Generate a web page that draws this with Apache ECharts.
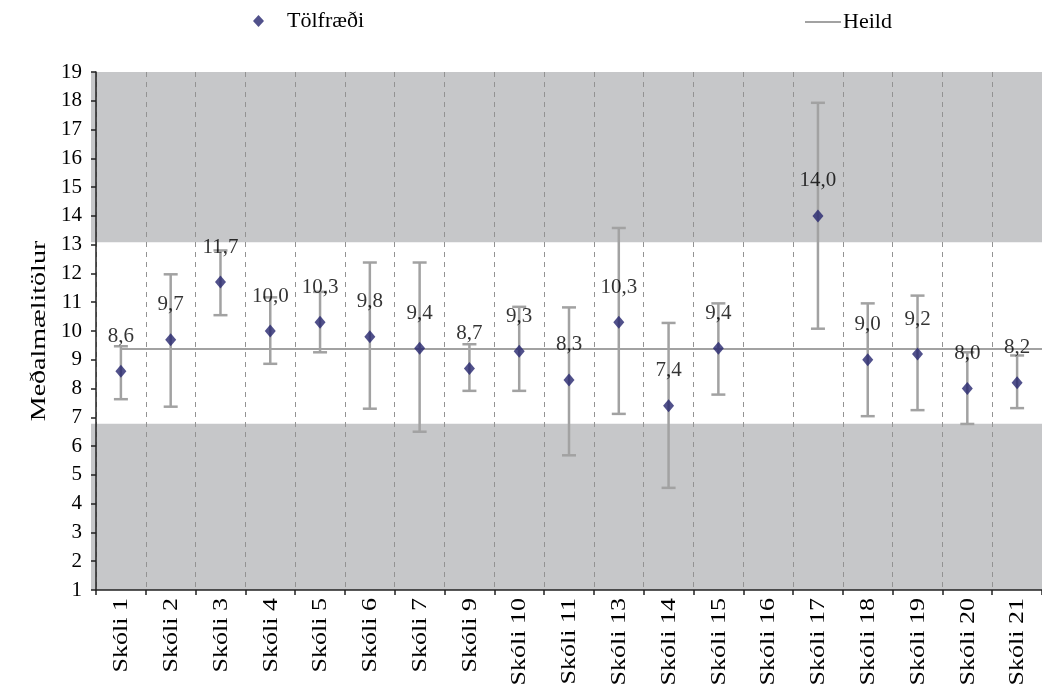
<!DOCTYPE html>
<html>
<head>
<meta charset="utf-8">
<script src="https://cdn.jsdelivr.net/npm/echarts@6/dist/echarts.min.js"></script>
<style>
  html, body { margin: 0; padding: 0; background: #fff; }
  #chart { width: 1042px; height: 689px; }
</style>
</head>
<body>
<div id="chart"></div>
<script>
// School categories along the x axis
const schools = ['Skóli 1', 'Skóli 2', 'Skóli 3', 'Skóli 4', 'Skóli 5', 'Skóli 6', 'Skóli 7',
  'Skóli 9', 'Skóli 10', 'Skóli 11', 'Skóli 13', 'Skóli 14', 'Skóli 15', 'Skóli 16',
  'Skóli 17', 'Skóli 18', 'Skóli 19', 'Skóli 20', 'Skóli 21'];

// Mean score per school (Skóli 16 has no result)
const means = [8.6, 9.7, 11.7, 10.0, 10.3, 9.8, 9.4, 8.7, 9.3, 8.3, 10.3, 7.4, 9.4, null, 14.0, 9.0, 9.2, 8.0, 8.2];
// Lower and upper ends of each school's range
const lows  = [7.63, 7.37, 10.55, 8.86, 9.26, 7.30, 6.50, 7.92, 7.92, 5.68, 7.12, 4.55, 7.79, null, 10.08, 7.04, 7.25, 6.77, 7.32];
const highs = [9.47, 11.97, 12.80, 11.17, 11.36, 12.38, 12.38, 9.54, 10.84, 10.82, 13.58, 10.28, 10.96, null, 17.93, 10.96, 11.23, 9.26, 9.15];

// Overall mean ("Heild")
const overall = 9.4;
// Edges of the shaded outer zones
const bandEdges = [6.78, 13.08];
// Value axis range
const yMin = 1, yMax = 19;

const serifName = '"Liberation Serif", "Times New Roman", serif';
const fmt = v => v.toFixed(1).replace('.', ',');
// Rotated captions are drawn in a slightly widened serif
const stretch = 1.3;
const titleStretch = 1.4;

const errData = schools.map((s, i) => lows[i] == null ? null : [i, lows[i], highs[i]]).filter(d => d);
const pointData = schools.map((s, i) => means[i] == null ? null : [i, means[i]]).filter(d => d);
const labelData = schools.map((s, i) => [i, yMin]);

const chart = echarts.init(document.getElementById('chart'), null, { renderer: 'canvas' });

chart.setOption({
  animation: false,
  backgroundColor: '#fff',
  textStyle: { fontFamily: serifName, color: '#000' },
  legend: [
    {
      data: [{ name: 'Tölfræði', icon: 'diamond' }],
      left: 248, top: 5,
      itemWidth: 11, itemHeight: 12,
      textStyle: { fontFamily: serifName, fontSize: 22, color: '#000', padding: [0, 0, 0, 18] }
    },
    {
      data: [{ name: 'Heild', icon: 'rect' }],
      left: 800, top: 6,
      itemWidth: 36, itemHeight: 2,
      textStyle: { fontFamily: serifName, fontSize: 22, color: '#000', padding: [0, 0, 0, -3] }
    }
  ],
  graphic: [
    {
      type: 'text',
      x: 40, y: 331,
      rotation: Math.PI / 2,
      scaleX: titleStretch,
      silent: true,
      style: {
        text: 'Meðalmælitölur',
        font: '20px ' + serifName,
        fill: '#000',
        align: 'center',
        verticalAlign: 'middle'
      }
    }
  ],
  grid: { left: 96, right: -6, top: 72, bottom: 99, containLabel: false },
  xAxis: {
    type: 'category',
    data: schools,
    boundaryGap: true,
    z: 3,
    axisLine: { lineStyle: { color: '#222', width: 1.5 } },
    axisTick: { show: true, interval: 0, length: 5, inside: false, lineStyle: { color: '#222', width: 1.5 } },
    axisLabel: { show: false, interval: 0 },
    splitLine: { show: true, interval: 0, lineStyle: { color: '#939393', type: [5, 5], width: 1 } }
  },
  yAxis: {
    type: 'value',
    min: yMin, max: yMax, interval: 1,
    z: 3,
    axisLine: { show: true, lineStyle: { color: '#222', width: 1.5 } },
    axisTick: { show: true, length: 5, inside: false, lineStyle: { color: '#222', width: 1.5 } },
    axisLabel: { fontSize: 21, color: '#000', fontFamily: serifName, margin: 14 },
    splitLine: { show: false }
  },
  series: [
    {
      // shaded zones above and below the middle band
      type: 'line',
      name: 'zones',
      data: [],
      z: 0,
      silent: true,
      markArea: {
        silent: true,
        z: 0,
        itemStyle: { color: '#c6c7c9' },
        data: [
          [{ x: 91, yAxis: bandEdges[1] }, { x: '100%', yAxis: yMax }],
          [{ x: 91, yAxis: yMin }, { x: '100%', yAxis: bandEdges[0] }]
        ]
      }
    },
    {
      // school names under the category axis
      type: 'custom',
      name: 'names',
      z: 6,
      silent: true,
      clip: false,
      data: labelData,
      renderItem: function (params, api) {
        const p = api.coord([api.value(0), yMin]);
        return {
          type: 'text',
          x: p[0] + 1,
          y: p[1] + 8,
          rotation: Math.PI / 2,
          scaleX: stretch,
          style: {
            text: schools[params.dataIndex],
            font: '20px ' + serifName,
            fill: '#000',
            align: 'right',
            verticalAlign: 'middle'
          }
        };
      }
    },
    {
      type: 'custom',
      name: 'range',
      z: 2,
      silent: true,
      data: errData,
      encode: { x: 0, y: [1, 2] },
      renderItem: function (params, api) {
        const x = api.value(0);
        const lo = api.coord([x, api.value(1)]);
        const hi = api.coord([x, api.value(2)]);
        const cap = 7;
        const style = { stroke: '#a2a2a2', lineWidth: 2.5, fill: null };
        return {
          type: 'group',
          children: [
            { type: 'line', shape: { x1: lo[0], y1: lo[1], x2: hi[0], y2: hi[1] }, style: style },
            { type: 'line', shape: { x1: lo[0] - cap, y1: lo[1], x2: lo[0] + cap, y2: lo[1] }, style: style },
            { type: 'line', shape: { x1: hi[0] - cap, y1: hi[1], x2: hi[0] + cap, y2: hi[1] }, style: style }
          ]
        };
      }
    },
    {
      type: 'line',
      name: 'Heild',
      data: [],
      z: 3,
      symbol: 'none',
      lineStyle: { color: '#a2a2a2', width: 2 },
      itemStyle: { color: '#a2a2a2' },
      markLine: {
        silent: true,
        z: 3,
        symbol: 'none',
        label: { show: false },
        lineStyle: { color: '#a2a2a2', width: 2, type: 'solid' },
        data: [[
          { coord: [0, overall] },
          { coord: [schools.length - 1, overall], x: '100%' }
        ]]
      }
    },
    {
      type: 'scatter',
      name: 'Tölfræði',
      z: 4,
      data: pointData,
      symbol: 'diamond',
      symbolSize: [11, 13],
      itemStyle: { color: '#26256e' },
      label: {
        show: true,
        position: 'top',
        distance: 18,
        fontFamily: serifName,
        fontSize: 21,
        color: '#000',
        formatter: p => fmt(p.value[1])
      }
    }
  ]
});
</script>
</body>
</html>
